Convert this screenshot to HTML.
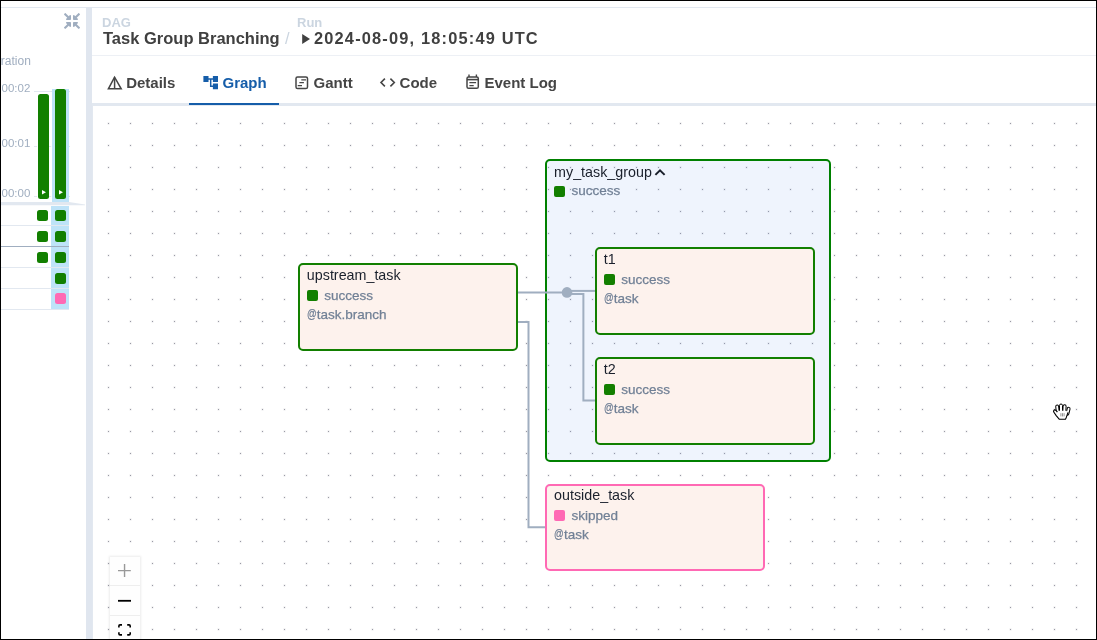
<!DOCTYPE html>
<html><head><meta charset="utf-8">
<style>
*{box-sizing:border-box;margin:0;padding:0}
html,body{width:1097px;height:640px;overflow:hidden;background:#fff}
body{position:relative;font-family:"Liberation Sans",sans-serif;}
.a{position:absolute;white-space:nowrap;line-height:1}
.b{font-weight:bold}
#frame{position:absolute;left:0;top:0;width:1097px;height:640px;border:1px solid #000;z-index:100;pointer-events:none}
.node{position:absolute;border:2px solid #008000;border-radius:5px;background:#fdf2ed}
.nm{position:absolute;font-size:14.3px;color:#1a202c;line-height:1;white-space:nowrap}
.st{position:absolute;font-size:13.5px;color:#718096;-webkit-text-stroke:0.25px #718096;line-height:1;white-space:nowrap}
.sq{position:absolute;width:11px;height:10.8px;border-radius:2px;background:#127f00}
.tab{position:absolute;font-size:15px;font-weight:bold;color:#454545;line-height:1;white-space:nowrap}
.gb{background:#127f00;border-radius:2.5px}
.gs{width:11px;height:11px;border-radius:2.5px;background:#127f00}
.at{display:inline-block;width:10.3px;font-size:11.9px;transform:scaleX(0.8);transform-origin:0 50%;position:relative;top:-1.3px;left:0.3px}
.ax{position:absolute;font-size:11.5px;color:#a0aec0;line-height:1;white-space:nowrap;text-align:right}
</style></head><body>
<div id="root" style="position:absolute;left:0;top:0;width:1097px;height:640px;will-change:transform">
<div id="frame"></div>
<!-- top line -->
<div class="a" style="left:1px;top:7px;width:1095px;height:1px;background:#e2e8f0"></div>

<!-- LEFT PANEL -->
<div id="left" class="a" style="left:1px;top:8px;width:85px;height:631px;overflow:hidden">
 <div style="position:absolute;left:-1px;top:-8px;width:86px;height:640px">
  <div class="ax" style="left:-14.5px;top:54.6px;font-size:12px">Duration</div>
  <div class="ax" style="left:1.55px;top:82.97px">00:02</div>
  <div class="ax" style="left:1.55px;top:137.97px">00:01</div>
  <div class="ax" style="left:1.55px;top:188.2px">00:00</div>
  <div class="a" style="left:34px;top:91px;width:36px;height:1px;background:#e2e8f0"></div>
  <div class="a" style="left:34px;top:146px;width:36px;height:0;border-top:1px dashed #e2e8f0"></div>
  <div class="a" style="left:34px;top:196px;width:36px;height:0;border-top:1px dashed #e2e8f0"></div>
  <div class="a" style="left:51.5px;top:89px;width:17.5px;height:113px;background:#bee3f8"></div>
  <div class="a" style="left:51px;top:205.5px;width:18px;height:103.5px;background:#bee3f8"></div>
  <div class="a gb" style="left:38px;top:94px;width:11px;height:105px"></div>
  <div class="a gb" style="left:55px;top:89px;width:11px;height:110px"></div>
  <svg class="a" style="left:38px;top:186px" width="30" height="12"><path d="M4 4 L8 6.2 L4 8.5Z M21 4 L25 6.2 L21 8.5Z" fill="#fff"/></svg>
  <svg class="a" style="left:0;top:201px" width="86" height="6"><path d="M1 1 H69 L85 3.6 V4.3 H1 Z" fill="#e2e8f0"/></svg>
  <div class="a" style="left:1px;top:225px;width:68px;height:1px;background:#e2e8f0"></div>
  <div class="a" style="left:1px;top:246px;width:68px;height:1px;background:#a0aec0"></div>
  <div class="a" style="left:1px;top:267px;width:68px;height:1px;background:#e2e8f0"></div>
  <div class="a" style="left:1px;top:288px;width:68px;height:1px;background:#e2e8f0"></div>
  <div class="a" style="left:1px;top:309px;width:68px;height:1px;background:#e2e8f0"></div>
  <div class="a gs" style="left:37px;top:210px"></div><div class="a gs" style="left:55px;top:210px"></div>
  <div class="a gs" style="left:37px;top:231px"></div><div class="a gs" style="left:55px;top:231px"></div>
  <div class="a gs" style="left:37px;top:252px"></div><div class="a gs" style="left:55px;top:252px"></div>
  <div class="a gs" style="left:55px;top:272.5px"></div>
  <div class="a gs" style="left:55px;top:293.3px;background:#ff69b4"></div>
 </div>
 <svg class="a" style="left:63px;top:5px" width="16" height="16" viewBox="0 0 512 512">
  <path fill="#a0aec0" d="M200 288H88c-21.4 0-32.1 25.8-17 41l32.9 31-99.2 99.3c-6.2 6.2-6.2 16.4 0 22.6l25.4 25.4c6.2 6.2 16.4 6.2 22.6 0L152 408l31.1 33c15.1 15.1 40.9 4.4 40.9-17V312c0-13.3-10.7-24-24-24zm112-64h112c21.4 0 32.1-25.9 17-41l-33-31 99.3-99.3c6.2-6.2 6.2-16.4 0-22.6L481.9 4.7c-6.2-6.2-16.4-6.2-22.6 0L360 104l-31.1-33C313.8 55.9 288 66.6 288 88v112c0 13.3 10.7 24 24 24zm96 136l33-31.1c15.1-15.1 4.4-40.9-17-40.9H312c-13.3 0-24 10.7-24 24v112c0 21.4 25.9 32.1 41 17l31-32.9 99.3 99.3c6.2 6.2 16.4 6.2 22.6 0l25.4-25.4c6.2-6.2 6.2-16.4 0-22.6L408 360zM183 71.1L152 104 52.7 4.7c-6.2-6.2-16.4-6.2-22.6 0L4.7 30.1c-6.2 6.2-6.2 16.4 0 22.6L104 152l-33 31.1C55.9 198.2 66.6 224 88 224h112c13.3 0 24-10.7 24-24V88c0-21.4-25.9-32.1-41-16.9z"/>
 </svg>
</div>

<!-- divider -->
<div class="a" style="left:86px;top:7px;width:6px;height:632px;background:#e0e6ef"></div>

<!-- HEADER -->
<div class="a b" style="left:102px;top:16px;font-size:13px;color:#cbd5e0">DAG</div>
<div class="a b" style="left:103px;top:30px;font-size:16.5px;color:#404040">Task Group Branching</div>
<div class="a" style="left:285px;top:30px;font-size:16.4px;color:#cbd5e0">/</div>
<div class="a b" style="left:297px;top:16px;font-size:13px;color:#cbd5e0">Run</div>
<svg class="a" style="left:300px;top:32px" width="12" height="14"><polygon points="2.2,2 10,7 2.2,11.9" fill="#404040"/></svg>
<div class="a b" style="left:314px;top:30px;font-size:16.4px;color:#404040;letter-spacing:1.17px">2024-08-09, 18:05:49 UTC</div>
<div class="a" style="left:92px;top:55px;width:1004px;height:1px;background:#edf0f5"></div>

<!-- TABS -->
<div class="tab" style="left:126.2px;top:75.1px">Details</div>
<div class="tab" style="left:222.5px;top:75.1px;color:#155da9">Graph</div>
<div class="tab" style="left:313.5px;top:75.1px">Gantt</div>
<div class="tab" style="left:399.6px;top:75.1px">Code</div>
<div class="tab" style="left:484.5px;top:75.1px">Event Log</div>
<!-- tab icons -->
<svg class="a" style="left:104px;top:72px" width="120" height="22" viewBox="104 72 120 22">
 <g fill="none" stroke="#454545" stroke-width="1.5" stroke-linejoin="miter">
  <path d="M114.6 77.2 L108.4 88.8 L121.2 88.8 Z"/>
  <path d="M114.6 77.5 V88.5"/>
 </g>
 <path fill="#155da9" transform="translate(201.94 73.9) scale(0.73)" d="M22 11V3h-7v3H9V3H2v8h7V8h2v10h4v3h7v-8h-7v3h-2V8h2v3z"/>
</svg>
<svg class="a" style="left:290px;top:70px" width="200" height="24" viewBox="290 70 200 24">
 <g fill="none" stroke="#454545" stroke-width="1.5">
  <rect x="296" y="77" width="11.5" height="11.5" rx="1.6"/>
  <path d="M301.3 79.8 H306 M299.4 82.7 H303.9 M297.7 85.6 H302" stroke-width="1.3"/>
  <path d="M384.9 78.6 L381 82.5 L384.9 86.4 M390.4 78.6 L394.3 82.5 L390.4 86.4" stroke-width="1.6"/>
  <rect x="467" y="76.9" width="11.3" height="11.4" rx="1.6"/>
  <path d="M467 79.6 H478.3" stroke-width="1.6"/>
  <path d="M469 74.4 V77 M476.4 74.4 V77" stroke-width="1.4"/>
  <path d="M469.4 82.7 H476.1 M469.4 85.6 H473.7" stroke-width="1.3"/>
 </g>
</svg>
<div class="a" style="left:92px;top:103px;width:1004px;height:3px;background:#e2e8f0"></div>
<div class="a" style="left:189px;top:103px;width:90px;height:2px;background:#155da9"></div>

<!-- GRAPH AREA -->
<div class="a" style="left:92px;top:106px;width:1px;height:533px;background:#e2e8f0"></div>
<svg class="a" style="left:92px;top:105px" width="1004" height="534">
 <defs><pattern id="dots" width="22" height="22" patternUnits="userSpaceOnUse" x="5" y="7"><circle cx="11.5" cy="11.5" r="1.4" fill="#9a9aa5" fill-opacity="0.13"/><rect x="11" y="11" width="1" height="1" fill="#9a9aa5"/></pattern></defs>
 <rect width="1004" height="534" fill="url(#dots)"/>
</svg>

<div class="node" style="left:545px;top:158.8px;width:286px;height:303.2px;background:rgba(100,149,237,0.1)">
 <div class="nm" style="left:7.1px;top:3.8px">my_task_group</div>
 <svg class="a" style="left:105px;top:6.5px" width="16" height="12"><path d="M3.4 7.9 L8 3.4 L12.6 7.9" fill="none" stroke="#1a202c" stroke-width="2"/></svg>
 <div class="sq" style="left:6.8px;top:25px"></div>
 <div class="st" style="left:24.6px;top:23.3px">success</div>
</div>
<svg class="a" style="left:0;top:0" width="1097" height="640">
 <g fill="none" stroke="#a0aec0" stroke-width="2">
  <path d="M516.5 292.6 H563"/>
  <path d="M567 290.9 H596"/>
  <path d="M567 294.1 H583.4 V400.5 H596"/>
  <path d="M516.5 322.1 H528.5 V527.3 H546"/>
 </g>
 <circle cx="567" cy="292.4" r="5.3" fill="#a0aec0"/>
</svg>
<div class="node" style="left:297.75px;top:263.4px;width:220px;height:87.5px;border-color:#127f00">
 <div class="nm" style="left:7.1px;top:2.20px">upstream_task</div>
 <div class="sq" style="left:6.8px;top:24.8px;background:#127f00"></div>
 <div class="st" style="left:24.6px;top:23.87px">success</div>
 <div class="st" style="left:6.6px;top:42.77px"><span class="at">@</span>task.branch</div>
</div>
<div class="node" style="left:594.75px;top:247.3px;width:220px;height:87.5px;border-color:#127f00">
 <div class="nm" style="left:7.1px;top:3.20px">t1</div>
 <div class="sq" style="left:6.8px;top:24.8px;background:#127f00"></div>
 <div class="st" style="left:24.6px;top:23.87px">success</div>
 <div class="st" style="left:6.6px;top:42.77px"><span class="at">@</span>task</div>
</div>
<div class="node" style="left:594.75px;top:357.25px;width:220px;height:87.5px;border-color:#127f00">
 <div class="nm" style="left:7.1px;top:3.20px">t2</div>
 <div class="sq" style="left:6.8px;top:24.8px;background:#127f00"></div>
 <div class="st" style="left:24.6px;top:23.87px">success</div>
 <div class="st" style="left:6.6px;top:42.77px"><span class="at">@</span>task</div>
</div>
<div class="node" style="left:545px;top:483.5px;width:220px;height:87.5px;border-color:#ff69b4">
 <div class="nm" style="left:7.1px;top:2.70px">outside_task</div>
 <div class="sq" style="left:6.8px;top:24.8px;background:#ff69b4"></div>
 <div class="st" style="left:24.6px;top:23.87px">skipped</div>
 <div class="st" style="left:6.6px;top:42.77px"><span class="at">@</span>task</div>
</div>
<div class="a" style="left:109.5px;top:556.6px;width:30px;height:100px;background:#fefefe;box-shadow:0 0 2px 1px rgba(0,0,0,0.08)">
 <div class="a" style="left:0;top:28.4px;width:30px;height:1px;background:#eee"></div>
 <div class="a" style="left:0;top:58.5px;width:30px;height:1px;background:#eee"></div>
</div>
<svg class="a" style="left:100px;top:550px" width="50" height="90" viewBox="100 550 50 90">
 <path d="M118 570.6 H130.8 M124.55 564.1 V576.9" stroke="#999" stroke-width="1.4" fill="none"/>
 <path d="M118 600.8 H131" stroke="#000" stroke-width="1.8" fill="none"/>
 <path d="M118.9 627.6 V626 Q118.9 624.9 120 624.9 H122 M127.2 624.9 H129.1 Q130.2 624.9 130.2 626 V627.6 M130.2 632.2 V633.8 Q130.2 634.9 129.1 634.9 H127.2 M122 634.9 H120 Q118.9 634.9 118.9 633.8 V632.2" stroke="#000" stroke-width="1.6" fill="none" stroke-linecap="butt"/>
</svg>
<svg class="a" style="left:1053px;top:403px" width="18" height="18" viewBox="0 0 18 18">
 <g fill="#fff" stroke="#000" stroke-width="1">
  <rect x="3.3" y="2.0" width="2.9" height="9" rx="1.45" transform="rotate(-6 4.7 9)"/>
  <rect x="6.5" y="1.0" width="3.0" height="9" rx="1.5"/>
  <rect x="9.8" y="1.8" width="3.0" height="9" rx="1.5" transform="rotate(3 11.3 9)"/>
  <rect x="13.2" y="4.2" width="2.8" height="8" rx="1.4" transform="rotate(14 14.6 10)"/>
 </g>
 <path d="M4.4,7.8 L13.4,7.8 L14.9,9.6 L13.4,14.2 C13.0,15.2 12.7,15.8 12.3,16.3 L6.4,16.3 L3.2,12.6 L0.9,9.2 C0.3,8.4 0.6,7.1 1.6,6.9 C2.6,6.7 3.4,7.6 4.4,9.0 Z" fill="#fff"/>
 <path d="M15.0,9.4 L13.4,14.2 C13.0,15.2 12.7,15.8 12.3,16.3 L6.4,16.3 L3.2,12.6 L0.9,9.2 C0.3,8.4 0.6,7.1 1.6,6.9 C2.6,6.7 3.4,7.6 4.4,9.1" fill="none" stroke="#000" stroke-width="1.1" stroke-linejoin="round"/>
 <path d="M7.9,10.2 V13.4 M9.5,10.2 V13.4 M11.1,10.2 V13.4" stroke="#8a8a8a" stroke-width="0.9"/>
</svg>
</div>
</body></html>
